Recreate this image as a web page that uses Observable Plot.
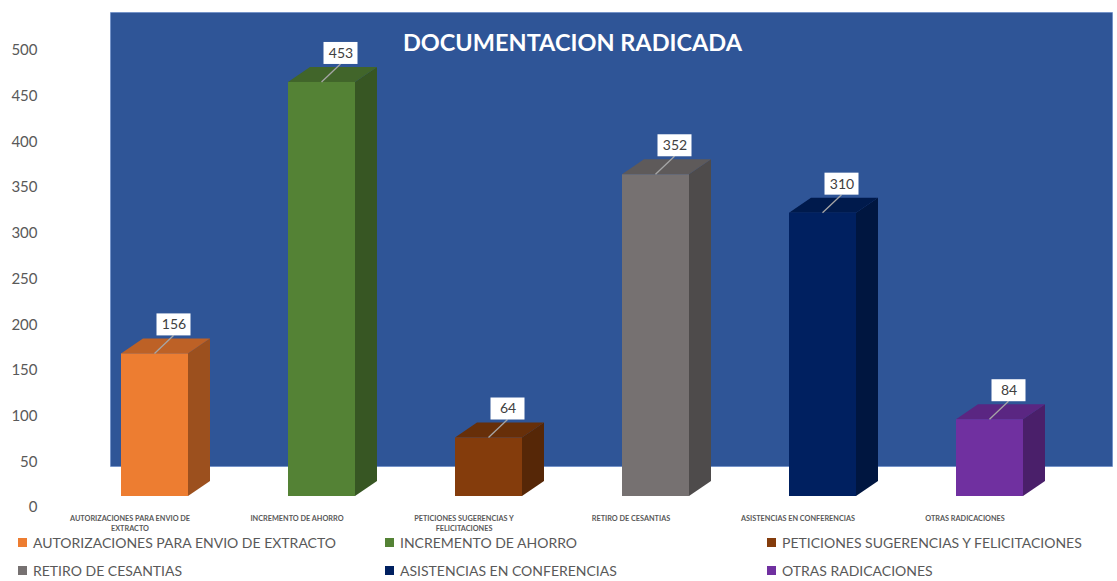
<!DOCTYPE html>
<html><head><meta charset="utf-8">
<script src="https://cdn.jsdelivr.net/npm/d3@7"></script>
<script src="https://cdn.jsdelivr.net/npm/@observablehq/plot@0.6"></script>
<style>
html,body{margin:0;padding:0;background:#fff;}
#chart{width:1117px;height:581px;position:relative;overflow:hidden;font-family:Lato,"Open Sans",sans-serif;}
#chart svg{display:block;}
.legend{display:grid;grid-template-columns:367px 382px auto;grid-auto-rows:28px;padding-left:18px;margin-top:-4px;}
.item{display:flex;align-items:center;font-size:14px;color:#595959;white-space:nowrap;}
.sw{width:9px;height:9px;margin-right:6px;flex:none;}
</style></head><body><div id="chart"></div>
<script>
const categories = [
  "AUTORIZACIONES PARA ENVIO DE EXTRACTO",
  "INCREMENTO DE AHORRO",
  "PETICIONES SUGERENCIAS Y FELICITACIONES",
  "RETIRO DE CESANTIAS",
  "ASISTENCIAS EN CONFERENCIAS",
  "OTRAS RADICACIONES"
];
const axisLabels = [
  "AUTORIZACIONES PARA ENVIO DE\nEXTRACTO",
  "INCREMENTO DE AHORRO",
  "PETICIONES SUGERENCIAS Y\nFELICITACIONES",
  "RETIRO DE CESANTIAS",
  "ASISTENCIAS EN CONFERENCIAS",
  "OTRAS RADICACIONES"
];
const values = [156, 453, 64, 352, 310, 84];
const frontColors = ["#ED7D31", "#548235", "#843C0C", "#767171", "#002060", "#7030A0"];
const topColors   = ["#BD6126", "#41652A", "#672F09", "#5E5A5A", "#001A4C", "#5A2682"];
const sideColors  = ["#9C501E", "#375623", "#562707", "#4E4B4B", "#001640", "#4A1F6A"];
const title = "DOCUMENTACION RADICADA";

const data = categories.map((c, i) => ({cat: c, value: values[i], label: axisLabels[i], front: frontColors[i], top: topColors[i], side: sideColors[i]}));

const LIFT = 11, DX = 22, DY = 15;

function box3d(index, scales) {
  const {x, y} = scales;
  const bw = x.bandwidth();
  const g = d3.create("svg:g");
  for (const d of data) {
    const x0 = x(d.cat), x1 = x0 + bw;
    const yb = y(0) - LIFT, yt = y(d.value) - LIFT;
    g.append("polygon").attr("fill", d.side)
      .attr("points", [[x1, yt], [x1 + DX, yt - DY], [x1 + DX, yb - DY], [x1, yb]].join(" "));
    g.append("polygon").attr("fill", d.top)
      .attr("points", [[x0, yt], [x0 + DX, yt - DY], [x1 + DX, yt - DY], [x1, yt]].join(" "));
  }
  return g.node();
}

function labelBoxes(index, scales) {
  const {x, y} = scales;
  const bw = x.bandwidth();
  const g = d3.create("svg:g");
  for (const d of data) {
    const cx = x(d.cat) + bw / 2;
    const yt = y(d.value) - LIFT;
    g.append("line").attr("x1", cx + 19).attr("y1", yt - 18).attr("x2", cx).attr("y2", yt)
      .attr("stroke", "#A6A6A6").attr("stroke-width", 1.3);
    g.append("rect").attr("x", cx + 19 - 17).attr("y", yt - 40).attr("width", 34).attr("height", 22)
      .attr("fill", "#FFFFFF");
  }
  return g.node();
}

const plot = Plot.plot({
  width: 1117,
  height: 532,
  marginLeft: 110,
  marginRight: 5,
  marginTop: 50,
  marginBottom: 25,
  style: {fontFamily: "Lato, 'Open Sans', sans-serif", fontSize: "15px", color: "#595959", background: "white"},
  x: {domain: categories, paddingInner: 0.6, paddingOuter: 0.3, align: 0.11, axis: null},
  y: {domain: [0, 500], ticks: 10, tickSize: 0, tickPadding: 73, label: null},
  marks: [
    Plot.frame({fill: "#2F5597", stroke: "#4472C4", strokeOpacity: 0.4, insetTop: -38, insetBottom: 41}),
    box3d,
    Plot.barY(data, {x: "cat", y: "value", fill: "front", dy: -LIFT}),
    labelBoxes,
    Plot.text(data, {x: "cat", y: "value", text: d => String(d.value), dx: 19, dy: -LIFT - 29, fill: "#404040", fontSize: 14}),
    Plot.text(data, {x: "cat", text: "label", frameAnchor: "bottom", lineAnchor: "top", dy: 6, dx: -25, lineHeight: 1.4, fontSize: 7.3, fontWeight: "bold", fill: "#595959"}),
    Plot.text([title], {frameAnchor: "top", lineAnchor: "middle", dx: -39, dy: -7, fill: "white", fontWeight: "bold", fontSize: 23.5})
  ]
});

const root = document.getElementById("chart");
root.appendChild(plot);
const legend = document.createElement("div");
legend.className = "legend";
data.forEach(d => {
  const it = document.createElement("div");
  it.className = "item";
  it.innerHTML = `<span class="sw" style="background:${d.front}"></span><span>${d.cat}</span>`;
  legend.appendChild(it);
});
root.appendChild(legend);
</script>
</body></html>
